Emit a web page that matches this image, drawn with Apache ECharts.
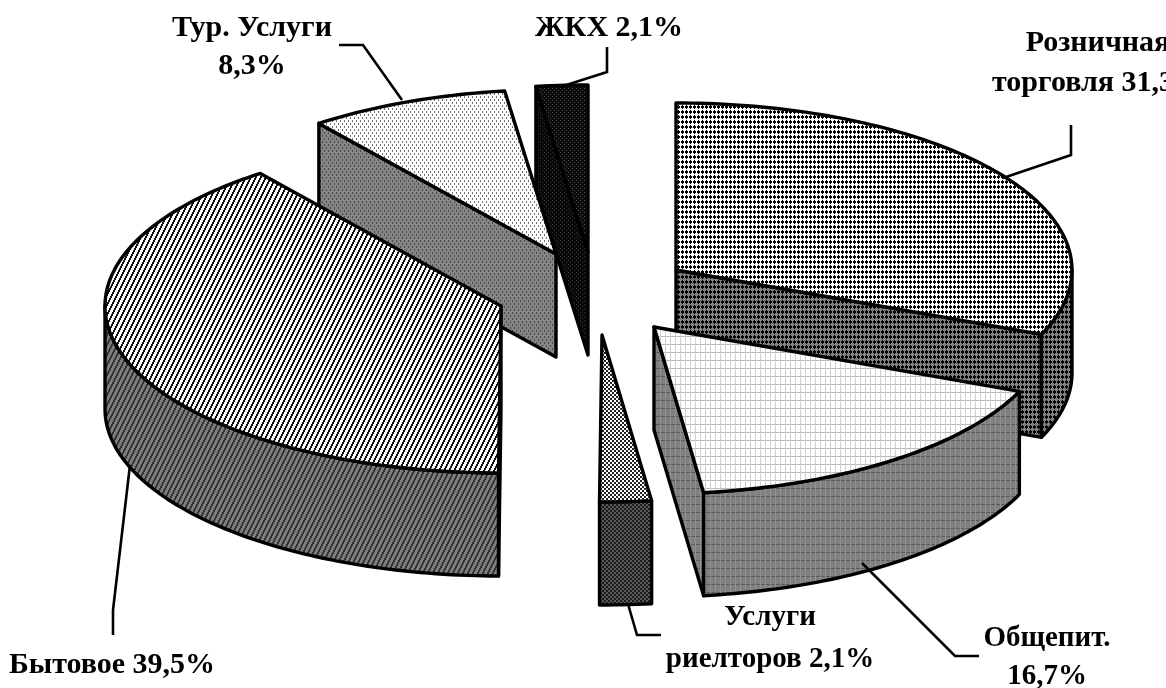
<!DOCTYPE html>
<html><head><meta charset="utf-8">
<style>html,body{margin:0;padding:0;background:#fff;overflow:hidden}#c{width:1166px;height:688px}</style>
<script src="https://cdn.jsdelivr.net/npm/echarts@6/dist/echarts.min.js"></script>
</head><body><div id="c"></div>
<script>
// DATA
const categories = ['Розничная торговля', 'Общепит.', 'Услуги риелторов', 'Бытовое', 'Тур. Услуги', 'ЖКХ'];
const shares = [31.3, 16.7, 2.1, 39.5, 8.3, 2.1];

// LAYOUT / STYLE
const RX = 396, RY = 167, DEPTH = 103;
const apexes = [[676,270],[654,327],[602,335],[501,306],[556,254],[588,252]];
const radiusScale = [1,1,1,1,0.985,1];
const drawRank = [4,5,3,2,1,0];
const bmp = {
  retail:  ['..#.','.###','.###','..#.','....'],
  grid:    ['vhhhh','v....','v....','v....','v....','v....','v....','v....'],
  checker: ['##..','##..','..##','..##'],
  stripes: ['...##','...##','..##.','..##.','.##..','.##..','##...','##...','#...#','#...#'],
  sparse:  ['#...','#...','....','..#.','..#.','....'],
  dotted:  ['#...','....','..#.','....']
};
function pat(rows, bg, fg, extra){
  const c=document.createElement('canvas');c.width=rows[0].length;c.height=rows.length;
  const g=c.getContext('2d');g.fillStyle=bg;g.fillRect(0,0,c.width,c.height);
  rows.forEach((r,y)=>[...r].forEach((ch,x)=>{
    const col = ch==='#'?fg:(extra&&extra[ch]);
    if(col){g.fillStyle=col;g.fillRect(x,y,1,1);}
  }));
  return {image:c,repeat:'repeat'};
}
const topFill = [
  pat(bmp.retail,'#ffffff','#000000'),
  pat(bmp.grid,'#ffffff','#000',{v:'#cfcfcf',h:'#b8b8b8'}),
  pat(bmp.checker,'#ffffff','#222222'),
  pat(bmp.stripes,'#ffffff','#111111'),
  pat(bmp.sparse,'#ffffff','#707070'),
  pat(bmp.dotted,'#0c0c0c','#4a4a4a')
];
const sideFill = [
  pat(bmp.retail,'#808080','#000000'),
  pat(bmp.grid,'#808080','#000',{v:'#929292',h:'#5c5c5c'}),
  pat(bmp.checker,'#5a5a5a','#1c1c1c'),
  pat(bmp.stripes,'#7d7d7d','#333333'),
  pat(bmp.sparse,'#858585','#4a4a4a'),
  pat(bmp.dotted,'#080808','#333333')
];
const total = shares.reduce((a,b)=>a+b,0);
function sliceAngles(i){
  let s=0; for(let k=0;k<i;k++) s+=shares[k];
  return [s/total*Math.PI*2,(s+shares[i])/total*Math.PI*2];
}
function rim(i,a,dy){const c=apexes[i],f=radiusScale[i];return [c[0]+RX*f*Math.sin(a),c[1]-RY*f*Math.cos(a)+(dy||0)];}
function arc(i,a0,a1,dy){
  const n=Math.max(2,Math.ceil((a1-a0)/0.02)),p=[];
  for(let k=0;k<=n;k++)p.push(rim(i,a0+(a1-a0)*k/n,dy));
  return p;
}
const HALF=Math.PI/2;
function renderSlice(params,api){
  const i=params.dataIndex;
  const [a0,a1]=sliceAngles(i), c=apexes[i];
  const children=[]; let seq=0;
  const z=drawRank[i]*10;
  const add=(pts,fill)=>children.push({type:'polygon',z2:z+(seq++),
    shape:{points:pts},
    style:{fill:fill,stroke:'#000',lineWidth:3.4,lineJoin:'round'}});
  const wall=(a)=>{const r=rim(i,a);add([c,r,[r[0],r[1]+DEPTH],[c[0],c[1]+DEPTH]],sideFill[i]);};
  if(Math.sin(a0)<-1e-3) wall(a0);
  if(Math.sin(a1)>1e-3) wall(a1);
  const f0=Math.max(a0,HALF), f1=Math.min(a1,3*HALF);
  if(f1>f0){
    const up=arc(i,f0,f1,0), dn=arc(i,f0,f1,DEPTH).reverse();
    add(up.concat(dn),sideFill[i]);
  }
  add([c].concat(arc(i,a0,a1,0)),topFill[i]);
  return {type:'group',children};
}
const FONT='"Liberation Serif","Times New Roman",serif';
function fmt(i){return shares[i].toFixed(1).replace('.',',')+'%';}
const labelTexts = [
  {t:'Розничная\nторговля '+fmt(0),x:1098,y:23,L:40,s:30},
  {t:categories[1]+'\n'+fmt(1),x:1047,y:620,L:38,s:29},
  {t:'Услуги\nриелторов '+fmt(2),x:770,y:597,L:42,s:29},
  {t:categories[3]+' '+fmt(3),x:112,y:646,L:38,s:30},
  {t:categories[4]+'\n'+fmt(4),x:252,y:9,L:38,s:30},
  {t:categories[5]+' '+fmt(5),x:609,y:9,L:38,s:30}
];
const leaders = [
  [[1003,178],[1071,155],[1071,125]],
  [[862,563],[955,656],[979,656]],
  [[628,604],[637,635],[661,635]],
  [[130,465],[113,610],[113,635]],
  [[402,100],[363,45],[339,45]],
  [[560,87],[607,72],[607,47]]
];
const chart=echarts.init(document.getElementById('c'),null,{renderer:'canvas'});
chart.setOption({
  animation:false,
  backgroundColor:'#fff',
  series:[{
    type:'custom',coordinateSystem:'none',silent:true,
    data:categories.map((n,i)=>({name:n,value:[shares[i]]})),
    renderItem:renderSlice
  }],
  graphic:{elements:[
    ...leaders.map(p=>({type:'polyline',z:10,silent:true,shape:{points:p},style:{fill:null,stroke:'#000',lineWidth:2.6}})),
    ...labelTexts.map(l=>({type:'text',z:11,silent:true,x:l.x,y:l.y,style:{
      text:l.t,font:'bold '+l.s+'px '+FONT,fill:'#000',align:'center',verticalAlign:'top',lineHeight:l.L}}))
  ]}
});
</script></body></html>
